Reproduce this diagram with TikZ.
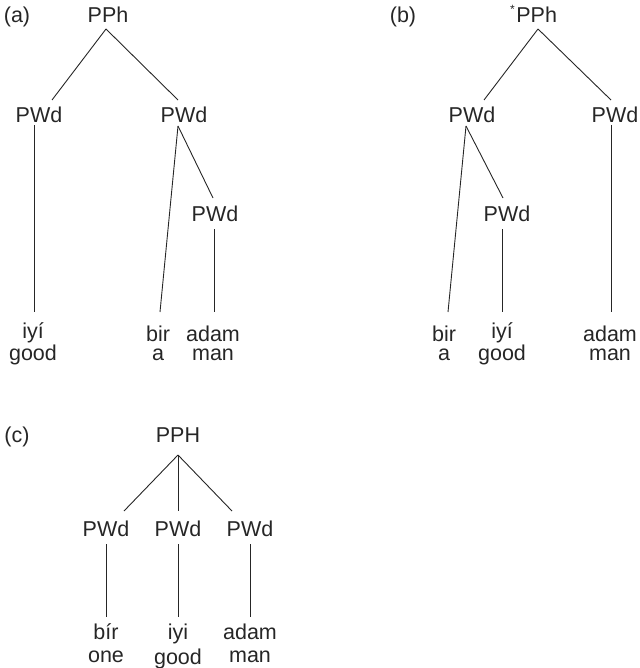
\documentclass[tikz,border=0pt]{standalone}
\usepackage{fontspec}
\setmainfont{Liberation Sans}
\usetikzlibrary{calc}
\begin{document}
\begin{tikzpicture}[x=1pt,y=-1pt,
  lbl/.style={font=\fontsize{21.5}{26}\selectfont, inner sep=0pt, anchor=base, text=black!85},
  wrd/.style={lbl, align=center, font=\fontsize{21.5}{19}\selectfont},
  edge/.style={line width=0.9pt, black!85}]
\useasboundingbox (0,0) rectangle (639,668);
% ---------- (a)
\node[lbl] (la) at (17,23) {(a)};
\node[lbl] (a0) at (108,23) {PPh};
\node[lbl] (a1) at (39,123) {PWd};
\node[lbl] (a2) at (184,123) {PWd};
\node[lbl] (a3) at (215,222) {PWd};
\node[wrd] (aw1) at (33,360) {iyí\\good};
\node[wrd] (aw2) at (158,360) {bir\\a};
\node[wrd] (aw3) at (213,360) {adam\\man};
\draw[edge] ($(a0.base)+(-2,6)$) -- ($(a1.base)+(13,-23)$);
\draw[edge] ($(a0.base)+(-2,6)$) -- ($(a2.base)+(-6,-23)$);
\draw[edge] ($(a1.base)+(-5,2)$) -- ($(aw1.base)+(1,-48)$);
\draw[edge] ($(a2.base)+(-6,3)$) -- ($(aw2.base)+(2,-48)$);
\draw[edge] ($(a2.base)+(-6,3)$) -- ($(a3.base)+(-2,-24)$);
\draw[edge] ($(a3.base)+(-1,7)$) -- ($(aw3.base)+(1,-48)$);
% ---------- (b)
\node[lbl] (lb) at (403,23) {(b)};
\node[lbl,anchor=base west] (b0) at (510,23) {\raisebox{9.5pt}{\fontsize{12}{12}\selectfont *}\hspace{1.5pt}PPh};
\node[lbl] (b1) at (472,123) {PWd};
\node[lbl] (b2) at (615,123) {PWd};
\node[lbl] (b3) at (507,222) {PWd};
\node[wrd] (bw1) at (444,360) {bir\\a};
\node[wrd] (bw2) at (502,360) {iyí\\good};
\node[wrd] (bw3) at (610,360) {adam\\man};
\draw[edge] ($(b0.base west)+(28,6)$) -- ($(b1.base)+(12,-23)$);
\draw[edge] ($(b0.base west)+(28,6)$) -- ($(b2.base)+(-4,-23)$);
\draw[edge] ($(b1.base)+(-6,3)$) -- ($(bw1.base)+(4,-48)$);
\draw[edge] ($(b1.base)+(-6,3)$) -- ($(b3.base)+(-4,-24)$);
\draw[edge] ($(b3.base)+(-5,7)$) -- ($(bw2.base)+(0,-48)$);
\draw[edge] ($(b2.base)+(-4,2)$) -- ($(bw3.base)+(1,-48)$);
% ---------- (c)
\node[lbl] (lc) at (17,442) {(c)};
\node[lbl] (c0) at (178,442) {PPH};
\node[lbl] (c1) at (106,536) {PWd};
\node[lbl] (c2) at (178,536) {PWd};
\node[lbl] (c3) at (250,536) {PWd};
\node[wrd,font=\fontsize{21.5}{23}\selectfont] (cw1) at (106,662) {bír\\one};
\node[wrd,font=\fontsize{21.5}{25}\selectfont] (cw2) at (178,664) {iyi\\good};
\node[wrd,font=\fontsize{21.5}{23}\selectfont] (cw3) at (250,662) {adam\\man};
\draw[edge] ($(c0.base)+(0,13)$) -- ($(c1.base)+(18,-25)$);
\draw[edge] ($(c0.base)+(0,13)$) -- ($(c2.base)+(0,-25)$);
\draw[edge] ($(c0.base)+(0,13)$) -- ($(c3.base)+(-18,-25)$);
\draw[edge] ($(c1.base)+(0,8)$) -- ($(cw1.base)+(0,-45)$);
\draw[edge] ($(c2.base)+(0,8)$) -- ($(cw2.base)+(0,-47)$);
\draw[edge] ($(c3.base)+(0,8)$) -- ($(cw3.base)+(0,-45)$);
\end{tikzpicture}
\end{document}
